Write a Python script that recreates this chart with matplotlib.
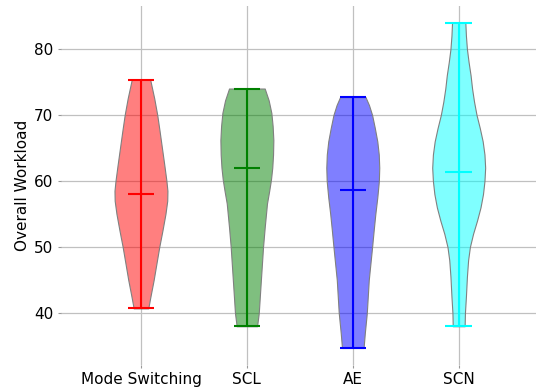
import numpy as np
import matplotlib.pyplot as plt
from matplotlib.colors import to_rgba

categories = ['Mode Switching', 'SCL', 'AE', 'SCN']
colors = ['red', 'green', 'blue', 'cyan']

means = [58.0, 62.0, 58.7, 61.3]
mins = [40.7, 38.0, 34.7, 38.0]
maxs = [75.3, 74.0, 72.7, 84.0]

# density profiles (relative width at each workload level)
ms_levels = [40.7, 42.5, 45.0, 47.5, 50.0, 52.5, 55.0, 57.0, 58.5, 60.0,
             62.5, 65.0, 67.5, 70.0, 72.5, 75.3]
ms_dens = [7.3, 9.5, 12.7, 15.5, 18.3, 21.5, 24.5, 26.3, 26.5, 25.5,
           23.3, 21.0, 18.7, 16.3, 13.3, 9.3]

scl_levels = [38.0, 40.0, 44.0, 47.0, 50.0, 53.0, 56.6, 58.5, 60.2, 62.0,
              64.0, 66.2, 68.3, 70.3, 72.2, 74.0]
scl_dens = [10.3, 12.0, 13.7, 15.0, 16.3, 18.0, 20.3, 22.5, 24.3, 25.6,
            26.4, 26.7, 26.0, 24.7, 22.0, 18.0]

ae_levels = [34.7, 37.0, 40.0, 42.5, 45.0, 47.5, 50.0, 52.5, 55.0, 57.5,
             60.0, 62.0, 64.0, 66.0, 68.0, 70.0, 71.5, 72.7]
ae_dens = [11.0, 12.3, 14.3, 15.3, 16.3, 18.0, 19.7, 21.3, 23.0, 25.0,
           26.6, 27.0, 26.5, 25.0, 22.5, 19.7, 16.5, 13.0]

scn_levels = [38.0, 40.0, 42.5, 45.5, 48.0, 50.0, 52.0, 54.0, 56.0, 58.0,
              60.0, 62.0, 64.0, 66.0, 68.0, 70.0, 72.0, 74.0, 76.0, 78.0,
              80.0, 82.0, 84.0]
scn_dens = [6.0, 6.3, 7.3, 8.3, 9.5, 11.3, 14.5, 18.5, 22.0, 24.5,
            26.0, 26.7, 26.0, 24.2, 21.3, 18.0, 15.5, 13.5, 12.0, 10.0,
            8.3, 7.3, 6.7]

profiles = [(ms_levels, ms_dens), (scl_levels, scl_dens),
            (ae_levels, ae_dens), (scn_levels, scn_dens)]

vpstats = []
for (lv, d), m, lo, hi in zip(profiles, means, mins, maxs):
    vpstats.append({'coords': np.array(lv), 'vals': np.array(d),
                    'mean': m, 'median': m, 'min': lo, 'max': hi})

fig = plt.figure(figsize=(5.36, 3.89), dpi=100)
ax = fig.add_axes([61 / 536, 24.5 / 389, 475 / 536, 358.5 / 389])

positions = [1, 2, 3, 4]
parts = ax.violin(vpstats, positions=positions, widths=0.5,
                  showmeans=True, showextrema=True, showmedians=False)

for body, c in zip(parts['bodies'], colors):
    body.set_alpha(None)
    body.set_facecolor(to_rgba(c, 0.5))
    body.set_edgecolor('gray')
    body.set_linewidth(0.8)
for key in ['cbars', 'cmins', 'cmaxes', 'cmeans']:
    parts[key].set_color(colors)
    parts[key].set_linewidth(1.5)

ax.set_xlim(0.245, 4.73)
ax.set_ylim(32.2, 86.5)
ax.set_xticks(positions)
ax.set_xticklabels(categories)
ax.set_yticks([40, 50, 60, 70, 80])
ax.set_ylabel('Overall Workload', fontsize=11, labelpad=3)
ax.tick_params(axis='both', labelsize=11, length=2.5, color='#999999', pad=3)
ax.grid(True, color='#c0c0c0', linewidth=0.9)
ax.set_axisbelow(True)
for s in ax.spines.values():
    s.set_visible(False)

fig.savefig('out.png', dpi=100)
